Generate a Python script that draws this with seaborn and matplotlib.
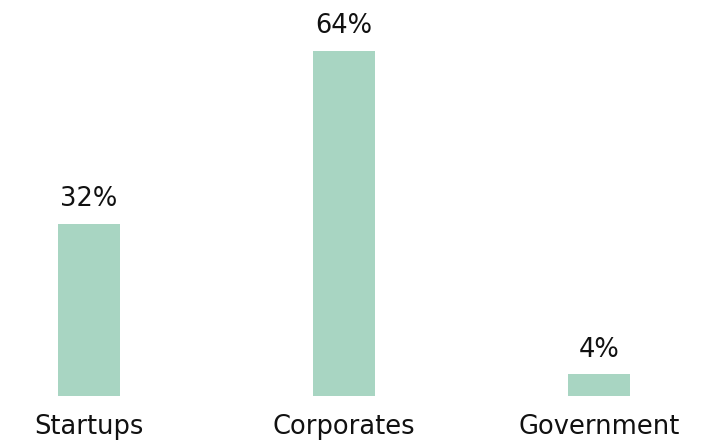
import matplotlib
matplotlib.use("Agg")
import matplotlib.pyplot as plt
import seaborn as sns
import pandas as pd

categories = ["Startups", "Corporates", "Government"]
shares = [32, 64, 4]
value_labels = ["32%", "64%", "4%"]

df = pd.DataFrame({"category": categories, "share": shares})

sns.set_theme(style="white")
plt.rcParams["font.family"] = ["DejaVu Sans"]

fig = plt.figure(figsize=(7.18, 4.42), dpi=100)
ax = fig.add_axes([0, 0.104, 1, 0.896])

sns.barplot(data=df, x="category", y="share", color="#A8D5C2",
            saturation=1, width=0.243, linewidth=0, ax=ax)

ax.set_xlim(-0.349, 2.467)
ax.set_ylim(0, 73.46)

for i, (v, lab) in enumerate(zip(shares, value_labels)):
    ax.annotate(lab, (i, v), xytext=(0, 8.5), textcoords="offset points",
                ha="center", va="bottom", fontsize=18.5, color="#111111")

ax.set_xlabel("")
ax.set_ylabel("")
ax.set_yticks([])
ax.tick_params(axis="x", length=0, pad=13, labelsize=18.5, labelcolor="#111111")
for s in ax.spines.values():
    s.set_visible(False)

fig.savefig("out.png", dpi=100)
